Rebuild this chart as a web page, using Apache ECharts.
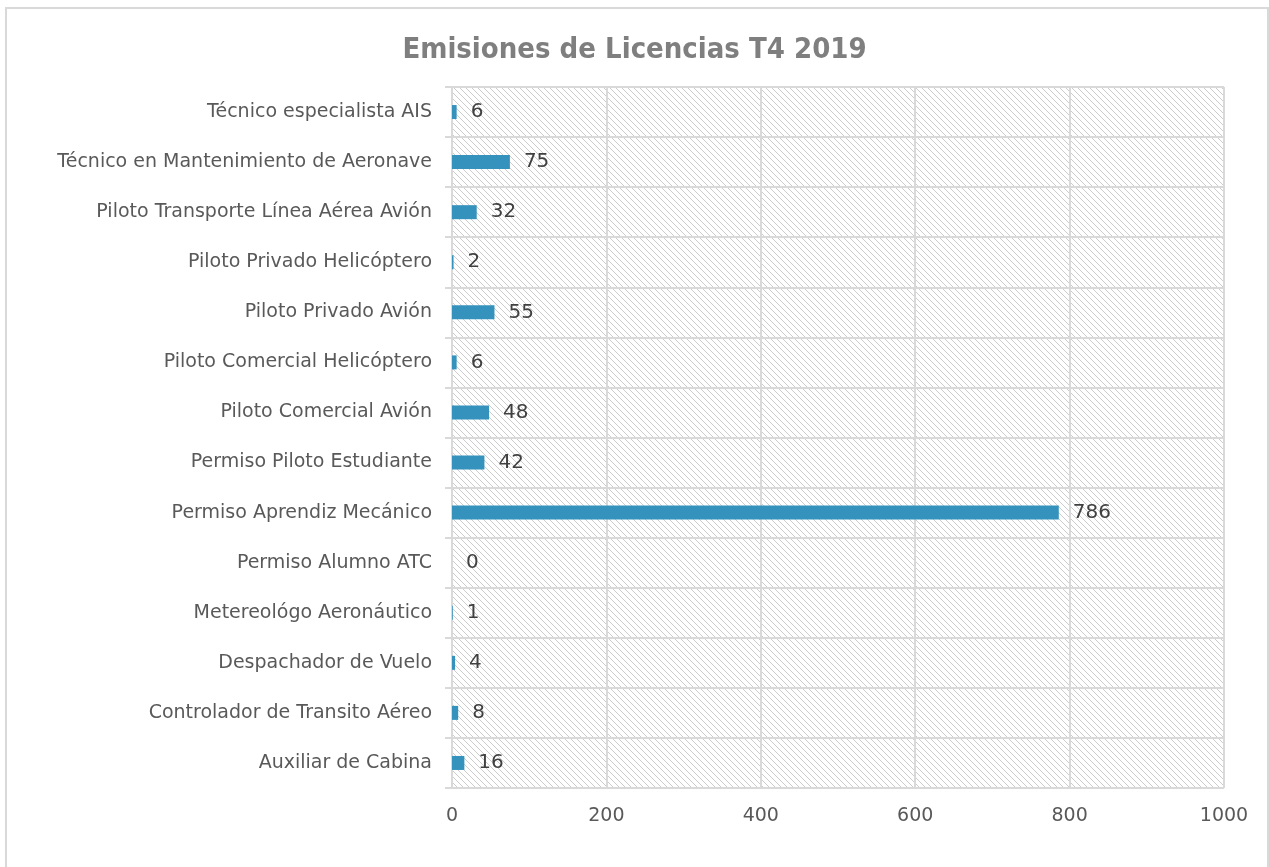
<!DOCTYPE html>
<html>
<head>
<meta charset="utf-8">
<script src="https://cdn.jsdelivr.net/npm/echarts@6/dist/echarts.min.js"></script>
<style>
  html, body { margin: 0; padding: 0; background: #fff; overflow: hidden; }
  #frame { position: absolute; left: 5px; top: 7px; width: 1264px; height: 870px; border: 2px solid #d9d9d9; box-sizing: border-box; }
  #chart { position: absolute; left: 0; top: 0; width: 1269px; height: 867px; }
</style>
</head>
<body>
<div id="frame"></div>
<div id="chart"></div>
<script>
  // categorias de abajo hacia arriba (como en el eje)
  var categories = [
    'Auxiliar de Cabina',
    'Controlador de Transito Aéreo',
    'Despachador de Vuelo',
    'Metereológo Aeronáutico',
    'Permiso Alumno ATC',
    'Permiso Aprendiz Mecánico',
    'Permiso Piloto Estudiante',
    'Piloto Comercial Avión',
    'Piloto Comercial Helicóptero',
    'Piloto Privado Avión',
    'Piloto Privado Helicóptero',
    'Piloto Transporte Línea Aérea Avión',
    'Técnico en Mantenimiento de Aeronave',
    'Técnico especialista AIS'
  ];
  var licencias = [16, 8, 4, 1, 0, 786, 42, 48, 6, 55, 2, 32, 75, 6];
  var xTicks = [0, 200, 400, 600, 800, 1000];

  // fondo rayado del area de trazado
  function hatch() {
    var c = document.createElement('canvas');
    c.width = 6; c.height = 6;
    var ctx = c.getContext('2d');
    ctx.fillStyle = '#ffffff';
    ctx.fillRect(0, 0, 6, 6);
    ctx.strokeStyle = '#cccccc';
    ctx.lineWidth = 1;
    ctx.beginPath();
    ctx.moveTo(-1, -1); ctx.lineTo(7, 7);
    ctx.moveTo(-1, 5); ctx.lineTo(1, 7);
    ctx.moveTo(5, -1); ctx.lineTo(7, 1);
    ctx.stroke();
    return c;
  }

  var myChart = echarts.init(document.getElementById('chart'), null, { renderer: 'canvas' });
  var option = {
    backgroundColor: 'transparent',
    animation: false,
    title: {
      text: 'Emisiones de Licencias T4 2019',
      left: 'center',
      top: 31,
      textStyle: {
        fontFamily: 'Liberation Sans Narrow, DejaVu Sans Condensed, sans-serif',
        fontWeight: 'bold',
        fontSize: 29,
        color: '#7f7f7f'
      }
    },
    grid: {
      left: 452,
      right: 45,
      top: 87,
      bottom: 79,
      show: true,
      borderWidth: 0,
      backgroundColor: { image: hatch(), repeat: 'repeat' }
    },
    xAxis: {
      type: 'value',
      min: 0,
      max: xTicks[xTicks.length - 1],
      interval: 200,
      axisLine: { show: false },
      axisTick: { show: false },
      splitLine: { show: true, lineStyle: { color: '#d9d9d9', width: 2 } },
      axisLabel: {
        margin: 19,
        fontFamily: 'DejaVu Sans, sans-serif',
        fontSize: 19,
        color: '#595959',
        formatter: function (v) { return String(v); }
      }
    },
    yAxis: {
      type: 'category',
      data: categories,
      axisLine: { show: true, lineStyle: { color: '#d9d9d9', width: 2 } },
      axisTick: { show: true, length: 7, lineStyle: { color: '#d9d9d9', width: 2 } },
      splitLine: { show: true, lineStyle: { color: '#d9d9d9', width: 2 } },
      axisLabel: {
        margin: 20,
        fontFamily: 'DejaVu Sans, sans-serif',
        fontSize: 19,
        color: '#595959'
      }
    },
    series: [{
      type: 'bar',
      data: licencias,
      barWidth: 14,
      itemStyle: { color: '#3592bd' },
      label: {
        show: true,
        position: 'right',
        distance: 14,
        fontFamily: 'DejaVu Sans, sans-serif',
        fontSize: 20,
        color: '#404040'
      }
    }]
  };
  myChart.setOption(option);
</script>
</body>
</html>
